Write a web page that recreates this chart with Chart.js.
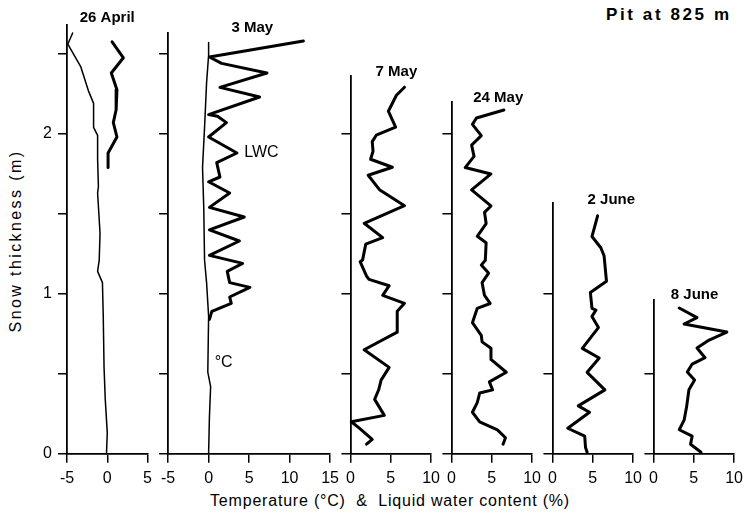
<!DOCTYPE html>
<html>
<head>
<meta charset="utf-8">
<script src="https://cdn.jsdelivr.net/npm/chart.js"></script>
<style>
  body { margin: 0; background: #fff; }
  #wrap { position: relative; width: 747px; height: 516px; background: #fff; overflow: hidden; font-family: "Liberation Sans", Arial, sans-serif; color: #000; }
  #pit { position: absolute; left: 606px; top: 15px; transform: translateY(-50%); font-weight: bold; font-size: 17px; letter-spacing: 2.6px; white-space: pre; }
  #ytitle { position: absolute; left: 16px; top: 241px; transform: translate(-50%, -50%) rotate(-90deg); font-size: 16px; letter-spacing: 2.4px; white-space: pre; }
  #xtitle { position: absolute; left: 390px; top: 501px; transform: translate(-50%, -50%); font-size: 16px; letter-spacing: 0.8px; white-space: pre; }
</style>
</head>
<body>
<div id="wrap">
  <div id="pit">Pit at 825 m</div>
  <div id="ytitle">Snow thickness (m)</div>
  <div id="xtitle">Temperature (°C)  &amp;  Liquid water content (%)</div>
</div>
<script>
// pit dates and the snow depth (m) on each date
const dates = ["26 April", "3 May", "7 May", "24 May", "2 June", "8 June"];
const snowDepth = [2.68, 2.63, 2.36, 2.2, 1.57, 0.96];

// x tick labels of each panel
const xTicks = [[-5, 0, 5], [-5, 0, 5, 10, 15], [0, 5, 10], [0, 5, 10], [0, 5, 10], [0, 5, 10]];

// profiles: [value, depth (m)] ; temperature in °C, LWC in %
const apr26Temp = [[-4.3, 2.63], [-4.9, 2.56], [-3.3, 2.42], [-2.35, 2.27], [-1.7, 2.19], [-1.7, 2.04],
  [-1.2, 1.99], [-1.2, 1.84], [-1.1, 1.67], [-1.2, 1.63], [-0.9, 1.38], [-1.0, 1.21], [-1.2, 1.14],
  [-0.6, 1.07], [-0.5, 0.86], [-0.4, 0.54], [-0.25, 0.34], [0, 0.13], [-0.1, 0]];
const apr26Lwc = [[0.6, 2.575], [2.0, 2.475], [0.5, 2.38], [1.2, 2.275], [1.1, 2.15], [0.75, 2.07],
  [1.2, 1.98], [0.1, 1.88], [0.1, 1.79]];

const may3Temp = [[0, 2.57], [0, 2.49], [-0.25, 2.32], [-0.5, 2.04], [-0.75, 1.79], [-0.6, 1.54],
  [-0.5, 1.21], [-0.25, 1.07], [0, 0.86], [-0.1, 0.51], [0.25, 0.42], [0.1, 0.23], [0, 0]];
const may3Lwc = [[11.7, 2.58], [0.1, 2.48], [1.6, 2.44], [7.2, 2.38], [1.4, 2.29], [6.3, 2.23],
  [0, 2.12], [1.1, 2.11], [2.2, 2.07], [0, 1.98], [3.5, 1.88], [1.0, 1.82], [1.4, 1.73], [0, 1.70],
  [2.6, 1.63], [0.1, 1.54], [4.4, 1.48], [0.1, 1.40], [3.8, 1.33], [0.1, 1.24], [4.2, 1.19],
  [2.3, 1.14], [2.6, 1.07], [5.1, 1.04], [2.6, 0.98], [2.8, 0.94], [0.4, 0.89], [0.1, 0.84]];

const may7Lwc = [[6.7, 2.29], [5.7, 2.24], [4.7, 2.14], [5.6, 2.04], [3.2, 1.99], [2.7, 1.95],
  [2.8, 1.89], [2.5, 1.84], [5.2, 1.79], [2.2, 1.74], [3.6, 1.65], [6.7, 1.55], [1.7, 1.44],
  [4.0, 1.35], [1.9, 1.31], [1.5, 1.21], [1.2, 1.20], [2.0, 1.11], [2.3, 1.09], [4.8, 1.05],
  [4.0, 0.99], [6.7, 0.94], [5.8, 0.89], [5.8, 0.76], [1.7, 0.65], [4.8, 0.54], [3.8, 0.46],
  [3.5, 0.40], [3.0, 0.34], [3.6, 0.29], [4.2, 0.24], [0.1, 0.20], [1.1, 0.16], [2.7, 0.09], [2.0, 0.06]];

const may24Lwc = [[6.5, 2.15], [3.1, 2.10], [2.6, 2.06], [3.7, 1.99], [2.5, 1.93], [2.8, 1.86],
  [1.7, 1.79], [4.9, 1.75], [2.5, 1.65], [4.9, 1.55], [4.1, 1.51], [4.3, 1.44], [3.2, 1.36],
  [4.3, 1.32], [4.2, 1.21], [3.7, 1.18], [4.6, 1.13], [3.8, 1.07], [4.1, 0.99], [4.8, 0.94],
  [3.2, 0.91], [2.6, 0.82], [3.7, 0.74], [3.8, 0.70], [4.9, 0.66], [4.9, 0.59], [6.8, 0.51],
  [4.7, 0.45], [5.1, 0.40], [3.5, 0.38], [3.2, 0.32], [2.6, 0.26], [3.5, 0.20], [5.7, 0.15],
  [6.7, 0.10], [6.4, 0.06]];

const jun2Lwc = [[5.6, 1.49], [4.9, 1.36], [6.0, 1.29], [6.4, 1.24], [6.7, 1.08], [4.7, 1.01],
  [4.9, 0.91], [5.4, 0.90], [4.9, 0.86], [5.7, 0.79], [3.7, 0.66], [5.8, 0.60], [4.3, 0.51],
  [6.5, 0.40], [3.2, 0.30], [4.6, 0.26], [1.9, 0.16], [4.0, 0.11], [4.1, 0.04], [4.3, 0.01]];

const jun8Lwc = [[3.2, 0.91], [5.4, 0.85], [3.8, 0.81], [9.1, 0.76], [6.9, 0.71], [5.4, 0.66],
  [6.4, 0.60], [4.8, 0.56], [4.2, 0.51], [5.1, 0.46], [4.4, 0.40], [4.1, 0.29], [3.8, 0.21],
  [3.2, 0.15], [4.8, 0.11], [4.6, 0.06], [5.9, 0.01]];

const tempSeries = [apr26Temp, may3Temp, null, null, null, null];
const lwcSeries = [apr26Lwc, may3Lwc, may7Lwc, may24Lwc, jun2Lwc, jun8Lwc];

// where the date label sits (x value) and in-plot notes
const labelAt = [0, 5.4, 5.7, 5.8, 7.3, 5.1];
const labelGap = [7, 5, 4, 4, 3, 5];
const notes = [[], [["LWC", 4.4, 1.88], ["°C", 0.75, 0.57]], [], [], [], []];

const PX_X = 8.12, PX_Y = 160, BASE = 454, GAP = 20;
const FONT = '"Liberation Sans", Arial, sans-serif';

const panelText = {
  id: 'panelText',
  afterDraw(chart, args, opts) {
    const {ctx, chartArea} = chart;
    const x = chart.scales.x, y = chart.scales.y;
    ctx.save();
    ctx.fillStyle = '#000';
    ctx.font = 'bold 15px ' + FONT;
    ctx.textAlign = 'center';
    ctx.textBaseline = 'middle';
    ctx.fillText(opts.title, x.getPixelForValue(opts.at), chartArea.top - opts.gap);
    ctx.font = '16px ' + FONT;
    ctx.textAlign = 'left';
    opts.notes.forEach(n => ctx.fillText(n[0], x.getPixelForValue(n[1]), y.getPixelForValue(n[2])));
    ctx.restore();
  }
};

function line(arr, width) {
  return {
    data: arr.map(p => ({x: p[0], y: p[1]})),
    borderColor: '#000',
    borderWidth: width,
    pointRadius: 0,
    tension: 0,
    borderJoinStyle: 'round',
    borderCapStyle: 'round',
    clip: false
  };
}

const wrap = document.getElementById('wrap');
let left = 67;

dates.forEach((date, i) => {
  const ticks = xTicks[i];
  const xMin = ticks[0], xMax = ticks[ticks.length - 1];
  const areaW = Math.round((xMax - xMin) * PX_X);
  const areaH = Math.round(snowDepth[i] * PX_Y);
  const yW = i === 0 ? 67 : 10;

  const datasets = [];
  if (tempSeries[i]) datasets.push(line(tempSeries[i], 1.5));
  datasets.push(line(lwcSeries[i], 3));

  const axisGrid = {drawOnChartArea: false, drawTicks: true, tickLength: 9, color: '#000', lineWidth: 1.5};
  const axisBorder = {display: true, color: '#000', width: 1.8};

  const cfg = () => ({
    type: 'line',
    data: {datasets: datasets},
    options: {
      responsive: false,
      maintainAspectRatio: false,
      animation: false,
      events: [],
      layout: {padding: {top: 20, left: 0, right: 0, bottom: 0}},
      plugins: {
        legend: {display: false},
        tooltip: {enabled: false},
        panelText: {title: date, at: labelAt[i], gap: labelGap[i], notes: notes[i]}
      },
      scales: {
        x: {
          type: 'linear', min: xMin, max: xMax,
          afterBuildTicks: s => { s.ticks = ticks.map(v => ({value: v})); },
          ticks: {color: '#000', font: {family: FONT, size: 16}, padding: 6, maxRotation: 0, autoSkip: false},
          grid: axisGrid, border: axisBorder
        },
        y: {
          type: 'linear', min: 0, max: snowDepth[i],
          afterBuildTicks: s => { s.ticks = s.ticks.filter(t => Math.abs(t.value * 2 - Math.round(t.value * 2)) < 1e-6); },
          afterFit: s => { s.width = yW; },
          ticks: {
            stepSize: 0.5, autoSkip: false, color: '#000', padding: 6,
            font: {family: FONT, size: 16},
            callback: v => (i === 0 && Number.isInteger(v)) ? String(v) : ''
          },
          grid: axisGrid, border: axisBorder
        }
      }
    },
    plugins: [panelText]
  });

  const canvas = document.createElement('canvas');
  canvas.style.position = 'absolute';
  wrap.appendChild(canvas);
  let w = yW + areaW + 20, h = 20 + areaH + 40;
  canvas.width = w; canvas.height = h;
  let chart = new Chart(canvas, cfg());
  const a = chart.chartArea;
  w += areaW - Math.round(a.right - a.left);
  h += areaH - Math.round(a.bottom - a.top);
  chart.destroy();
  canvas.width = w; canvas.height = h;
  chart = new Chart(canvas, cfg());
  const b = chart.chartArea;
  canvas.style.left = Math.round(left - b.left) + 'px';
  canvas.style.top = Math.round(BASE - b.bottom) + 'px';
  left += areaW + GAP;
});
</script>
</body>
</html>
